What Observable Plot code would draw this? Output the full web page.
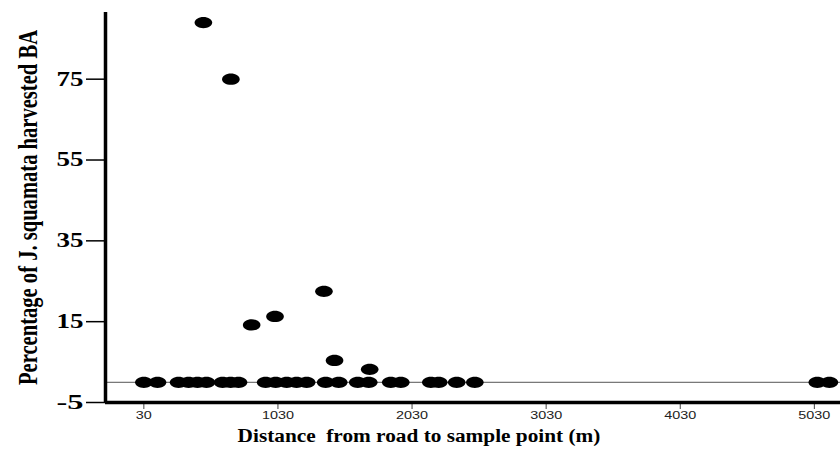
<!DOCTYPE html>
<html><head><meta charset="utf-8">
<script src="https://cdn.jsdelivr.net/npm/d3@7"></script>
<script src="https://cdn.jsdelivr.net/npm/@observablehq/plot@0.6"></script>
<style>body{margin:0;background:#fff}</style>
</head><body><div id="chart"></div>
<script>
// Data
const distance = [30, 132, 289, 364, 430, 497, 617, 677, 736, 938, 1013, 1095, 1169, 1244, 1386, 1483, 1625, 1707, 1871, 1946, 2170, 2229, 2363, 2498, 5052, 5142,
                  474, 679, 834, 1008, 1373, 1452, 1714];
const percent  = [0, 0, 0, 0, 0, 0, 0, 0, 0, 0, 0, 0, 0, 0, 0, 0, 0, 0, 0, 0, 0, 0, 0, 0, 0, 0,
                  89, 75, 14.2, 16.3, 22.5, 5.4, 3.2];
const xTicks = [30, 1030, 2030, 3030, 4030, 5030];
const yTicks = [-5, 15, 35, 55, 75];
const xDomain = [-256, 5225];
const yDomain = [-5, 91.5];
const xTitle = "Distance  from road to sample point (m)";
const yTitle = "Percentage of J. squamata harvested BA";

const data = distance.map((d, i) => ({distance: d, percent: percent[i]}));

// ellipse-shaped symbol (points in the reference are wide ovals)
const ellipse = {
  draw(ctx) {
    const rx = 8.8, ry = 5.6, k = 0.5523;
    ctx.moveTo(rx, 0);
    ctx.bezierCurveTo(rx, ry * k, rx * k, ry, 0, ry);
    ctx.bezierCurveTo(-rx * k, ry, -rx, ry * k, -rx, 0);
    ctx.bezierCurveTo(-rx, -ry * k, -rx * k, -ry, 0, -ry);
    ctx.bezierCurveTo(rx * k, -ry, rx, -ry * k, rx, 0);
    ctx.closePath();
  }
};

const chart = Plot.plot({
  width: 840,
  height: 455,
  marginLeft: 105,
  marginRight: 0,
  marginTop: 12,
  marginBottom: 53,
  style: {background: "#fff"},
  x: {domain: xDomain},
  y: {domain: yDomain},
  marks: [
    Plot.ruleY([0], {stroke: "#555", strokeWidth: 1}),
    Plot.axisX({ticks: xTicks, tickSize: 7, tickPadding: 2, label: null, tickFormat: d => String(d),
                fontSize: 11, fontFamily: "Liberation Sans", fill: "#222", stroke: "#444"}),
    Plot.axisY({ticks: yTicks, tickSize: 19, tickPadding: 3, label: null, tickFormat: d => String(d),
                fontSize: 20, fontFamily: "Liberation Serif", fontWeight: "bold", strokeWidth: 1.5}),
    Plot.ruleX([xDomain[0]], {stroke: "#000", strokeWidth: 3.5}),
    Plot.ruleY([yDomain[0]], {stroke: "#000", strokeWidth: 3.5}),
    Plot.dot(data, {x: "distance", y: "percent", symbol: ellipse, r: 6, fill: "#000", stroke: "none"}),
    Plot.text([xTitle], {text: d => d, frameAnchor: "bottom", dx: -54, dy: 39, textAnchor: "middle",
                         fontSize: 19, fontFamily: "Liberation Serif", fontWeight: "bold", fill: "#000"}),
    Plot.text([yTitle], {text: d => d, frameAnchor: "left", rotate: -90, dx: -77, textAnchor: "middle",
                         fontSize: 27, fontFamily: "Liberation Serif", fontWeight: "bold", fill: "#000"})
  ]
});
document.getElementById("chart").appendChild(chart);

// stretch texts horizontally like the reference image
const svg = d3.select(chart);
svg.selectAll('g[aria-label="y-axis tick label"] text').each(function() {
  const t = this.textContent;
  this.setAttribute("textLength", t.length * 13.5);
  this.setAttribute("lengthAdjust", "spacingAndGlyphs");
});
svg.selectAll('g[aria-label="x-axis tick label"] text').each(function() {
  const t = this.textContent;
  this.setAttribute("textLength", t.length * 8);
  this.setAttribute("lengthAdjust", "spacingAndGlyphs");
});
svg.selectAll('g[aria-label="text"] text').each(function() {
  const t = this.textContent;
  this.setAttribute("xml:space", "preserve");
  this.style.whiteSpace = "pre";
  const L = this.getComputedTextLength();
  const target = t === yTitle ? 355 : 363;
  const s = target / L;
  const tr = this.getAttribute("transform");
  if (tr) {
    this.setAttribute("transform", tr + ` scale(${s},1)`);
  } else {
    const x = +this.getAttribute("x") || 0;
    this.setAttribute("transform", `translate(${x * (1 - s)},0) scale(${s},1)`);
  }
});
</script>
</body></html>
